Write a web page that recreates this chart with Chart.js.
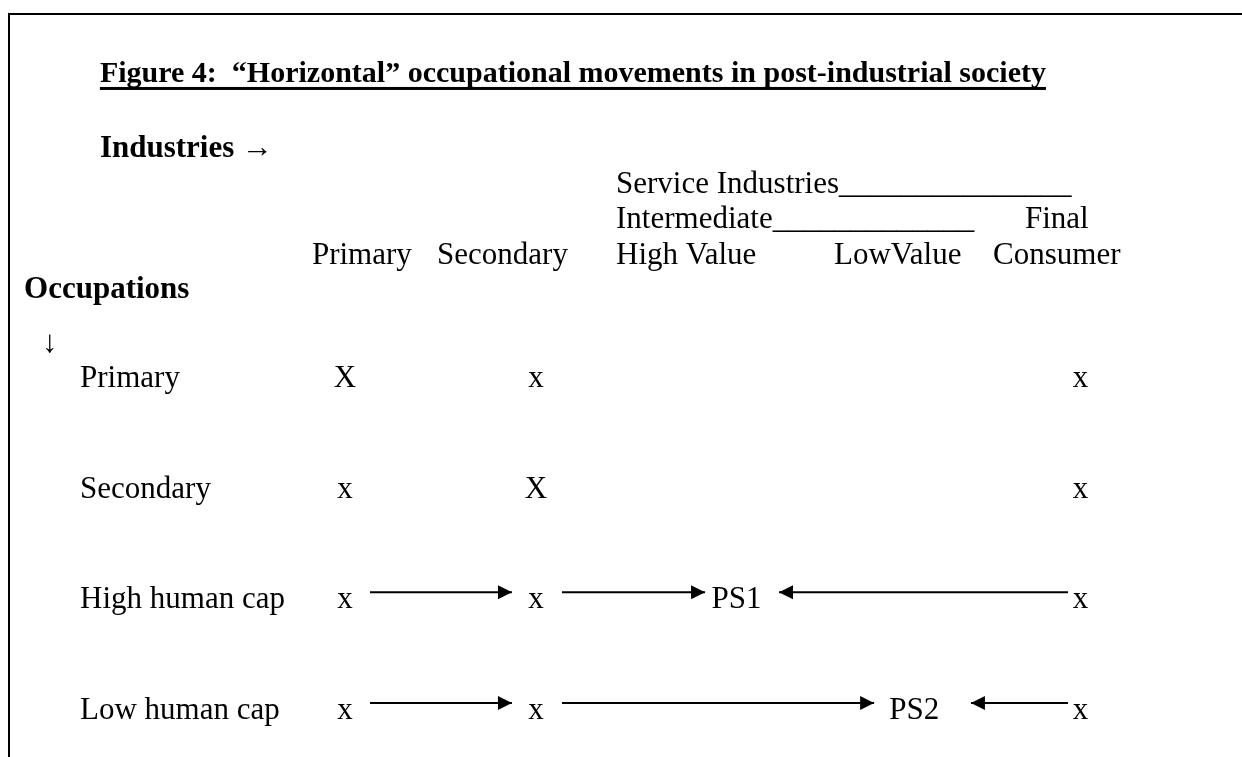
<!DOCTYPE html>
<html>
<head>
<meta charset="utf-8">
<script src="https://cdn.jsdelivr.net/npm/chart.js@4"></script>
<style>
  html, body { margin: 0; padding: 0; background: #fff; }
  canvas { display: block; }
</style>
</head>
<body>
<canvas id="fig4" width="1242" height="757"></canvas>
<script>
// Figure 4: "Horizontal" occupational movements in post-industrial society
const title = "Figure 4:  \u201CHorizontal\u201D occupational movements in post-industrial society";

// industry columns (x, in column units) and occupation rows (y, row index)
const industries = ["Primary", "Secondary", "High Value", "LowValue", "Final Consumer"];
const industryCol = [1, 2, 3.05, 3.98, 4.85];
const occupations = ["Primary", "Secondary", "High human cap", "Low human cap"];
const occupationRow = [1, 2, 3, 4];

// what sits in each cell (row = occupation, column = industry)
const cells = [
  ["X", "x", "", "", "x"],
  ["x", "X", "", "", "x"],
  ["x", "x", "PS1", "", "x"],
  ["x", "x", "", "PS2", "x"],
];

// movements: occupation row, start and end (column units)
const moveRow = [3, 3, 3, 4, 4, 4];
const moveFrom = [1.131, 2.136, 4.785, 1.131, 2.136, 4.785];
const moveTo = [1.874, 2.885, 3.272, 1.874, 3.77, 4.277];

// column header labels
const headerLabels = ["Primary", "Secondary", "High Value", "LowValue", "Consumer"];
const headerX = [0.827, 1.482, 2.419, 3.56, 4.393];

// ---- layout / style (not data) ----
const FONT = '"Liberation Serif", "Times New Roman", serif';
const SIZE = 31;
const DROP = 16; // text baseline sits this far below a row's line level
const layout = {
  titleX: -0.283, titleY: -1.756,
  industriesY: -1.078,
  serviceY: -0.753, intermediateY: -0.437, headerY: -0.111,
  groupX: 2.419, finalX: 4.56,
  occupationsX: -0.68, occupationsY: 0.196,
  downX: -0.586, downY: 0.684,
  rowLabelX: -0.387,
};

const markData = [];
cells.forEach(function (row, r) {
  row.forEach(function (label, c) {
    if (label) markData.push({ x: industryCol[c], y: occupationRow[r], label: label });
  });
});

const arrowSets = moveRow.map(function (row, i) {
  return {
    type: "line",
    data: [{ x: moveFrom[i], y: row }, { x: moveTo[i], y: row }],
    borderColor: "#000",
    borderWidth: 2,
    pointRadius: 0,
    fill: false,
    clip: false,
  };
});

const diagramPlugin = {
  id: "diagram",
  beforeDraw: function (chart) {
    const ctx = chart.ctx;
    ctx.save();
    ctx.fillStyle = "#fff";
    ctx.fillRect(0, 0, chart.width, chart.height);
    ctx.strokeStyle = "#000";
    ctx.lineWidth = 2;
    ctx.beginPath();
    ctx.moveTo(9, chart.height);
    ctx.lineTo(9, 14);
    ctx.lineTo(chart.width, 14);
    ctx.stroke();
    ctx.restore();
  },
  afterDatasetsDraw: function (chart) {
    const ctx = chart.ctx;
    const xs = chart.scales.x;
    const ys = chart.scales.y;
    const px = function (v) { return xs.getPixelForValue(v); };
    const py = function (v) { return ys.getPixelForValue(v) + DROP; };
    const regular = SIZE + "px " + FONT;
    const bold = "bold " + SIZE + "px " + FONT;

    ctx.save();
    ctx.fillStyle = "#000";
    ctx.textBaseline = "alphabetic";
    ctx.textAlign = "left";

    // title with underline
    ctx.font = "bold 30px " + FONT;
    const tx = px(layout.titleX), ty = py(layout.titleY);
    ctx.fillText(title, tx, ty);
    const tw = ctx.measureText(title).width;
    ctx.fillRect(tx, ty + 5, tw, 3);

    ctx.font = bold;
    ctx.fillText("Industries \u2192", tx, py(layout.industriesY));
    ctx.fillText("Occupations", px(layout.occupationsX), py(layout.occupationsY));

    ctx.font = regular;
    ctx.fillText("\u2193", px(layout.downX), py(layout.downY));
    ctx.fillText("Service Industries_______________", px(layout.groupX), py(layout.serviceY));
    ctx.fillText("Intermediate_____________", px(layout.groupX), py(layout.intermediateY));
    ctx.fillText("Final", px(layout.finalX), py(layout.intermediateY));
    headerLabels.forEach(function (h, i) {
      ctx.fillText(h, px(headerX[i]), py(layout.headerY));
    });
    occupations.forEach(function (o, i) {
      ctx.fillText(o, px(layout.rowLabelX), py(occupationRow[i]));
    });

    // cell marks, placed by the scatter dataset
    ctx.textAlign = "center";
    const meta = chart.getDatasetMeta(0);
    meta.data.forEach(function (el, i) {
      ctx.fillText(markData[i].label, el.x, el.y + DROP);
    });

    // arrow heads at the end of each movement line
    for (let d = 1; d < chart.data.datasets.length; d++) {
      const pts = chart.getDatasetMeta(d).data;
      const a = pts[0], b = pts[pts.length - 1];
      const dir = b.x > a.x ? 1 : -1;
      ctx.beginPath();
      ctx.moveTo(b.x, b.y);
      ctx.lineTo(b.x - dir * 14, b.y - 7);
      ctx.lineTo(b.x - dir * 14, b.y + 7);
      ctx.closePath();
      ctx.fill();
    }
    ctx.restore();
  },
};

new Chart(document.getElementById("fig4").getContext("2d"), {
  type: "scatter",
  data: {
    datasets: [
      {
        label: "cells",
        data: markData,
        pointRadius: 0,
        showLine: false,
        clip: false,
      },
    ].concat(arrowSets),
  },
  options: {
    responsive: false,
    animation: false,
    events: [],
    layout: { padding: 0 },
    plugins: {
      legend: { display: false },
      tooltip: { enabled: false },
      title: { display: false },
    },
    scales: {
      x: { type: "linear", display: false, min: -0.806, max: 5.696 },
      y: { type: "linear", display: false, reverse: true, min: -2.352, max: 4.488 },
    },
  },
  plugins: [diagramPlugin],
});
</script>
</body>
</html>
